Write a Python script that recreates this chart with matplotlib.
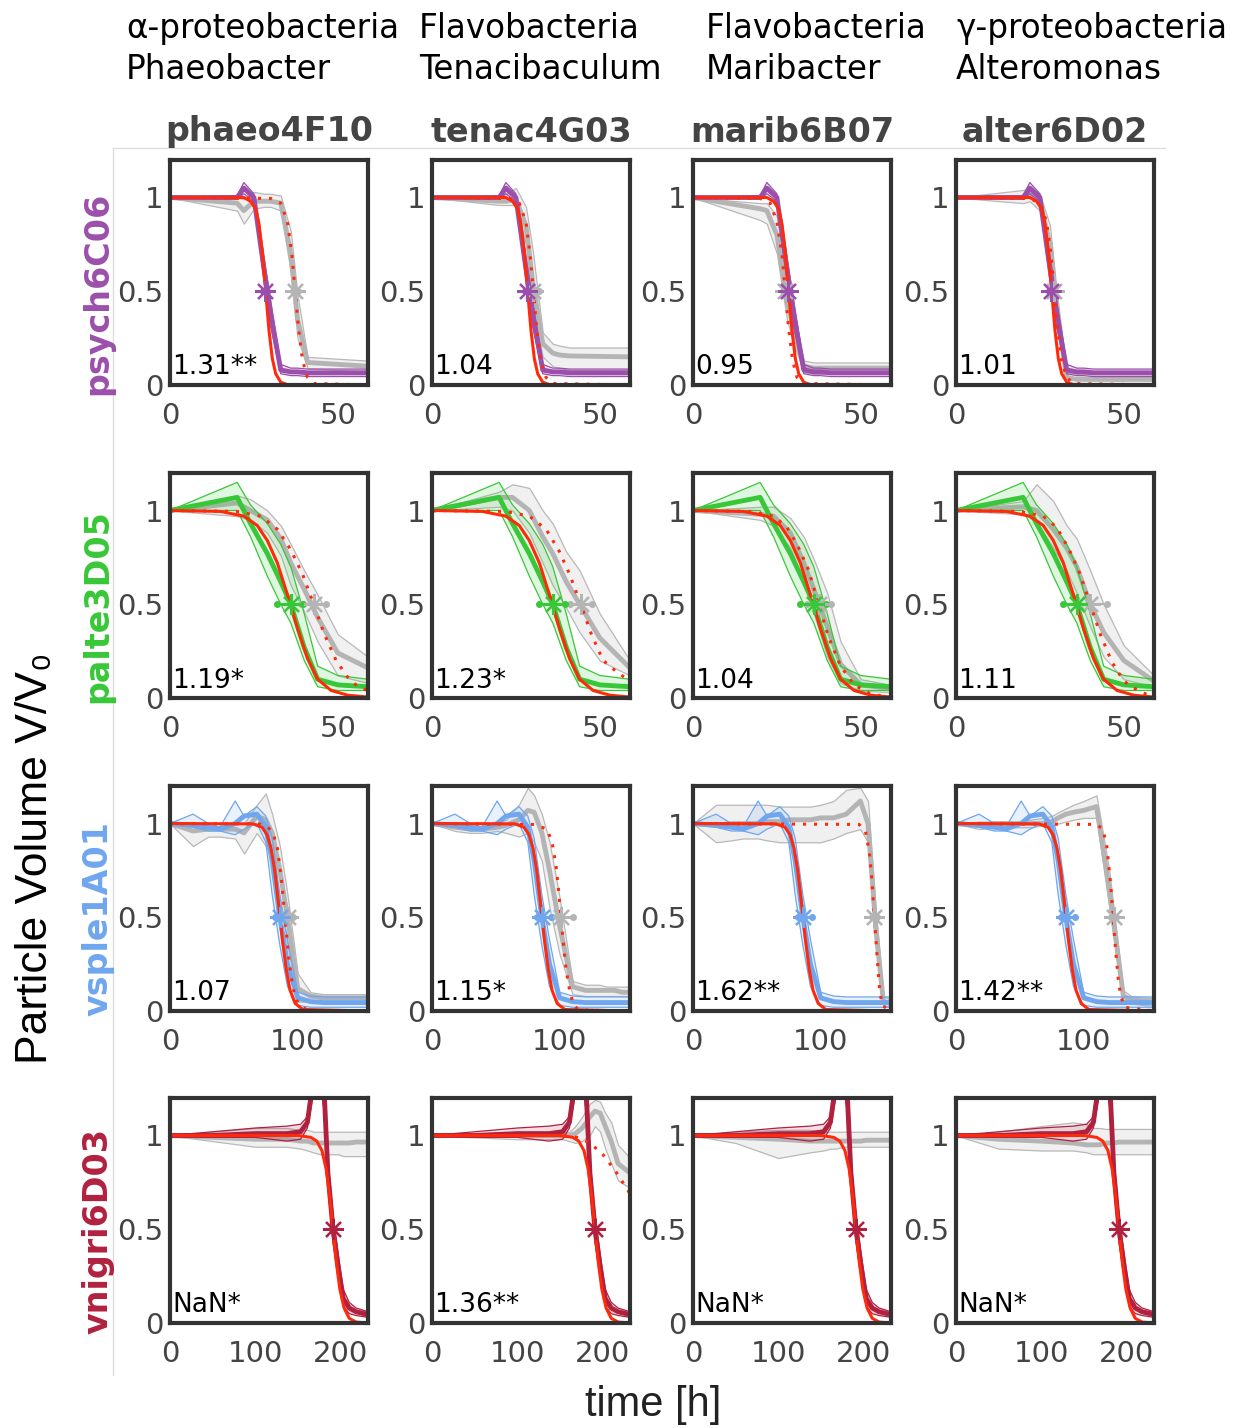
import matplotlib
matplotlib.use('Agg')
import matplotlib.pyplot as plt
from matplotlib.lines import Line2D

# ---- data ---------------------------------------------------------------
hosts = ['phaeo4F10', 'tenac4G03', 'marib6B07', 'alter6D02']
host_groups = ['α-proteobacteria\nPhaeobacter', 'Flavobacteria\nTenacibaculum',
               'Flavobacteria\nMaribacter', 'γ-proteobacteria\nAlteromonas']
strains = ['psych6C06', 'palte3D05', 'vsple1A01', 'vnigri6D03']
strain_colors = ['#9b4faa', '#38c738', '#6fa6ee', '#b0213f']
x_limits = [59, 59, 155, 232]
x_ticks = [[0, 50], [0, 50], [0, 100], [0, 100, 200]]

ratio_labels = [['1.31**', '1.04', '0.95', '1.01'],
                ['1.19*', '1.23*', '1.04', '1.11'],
                ['1.07', '1.15*', '1.62**', '1.42**'],
                ['NaN*', '1.36**', 'NaN*', 'NaN*']]

# psych6C06
t_psych = [0, 20, 22, 25, 28, 30, 33, 36, 38, 41, 59]
psych_med = [1.0, 1.0, 1.05, 1.0, 0.62, 0.38, 0.08, 0.07, 0.07, 0.065, 0.065]
psych_hi = [1.0, 1.01, 1.08, 1.02, 0.68, 0.45, 0.11, 0.09, 0.09, 0.085, 0.085]
psych_lo = [1.0, 0.99, 1.02, 0.98, 0.56, 0.31, 0.06, 0.05, 0.05, 0.045, 0.045]
psych_ctrl_med = [[1.0, 0.97, 0.93, 0.98, 0.98, 0.98, 0.97, 0.7, 0.35, 0.12, 0.1],
                  [1.0, 0.98, 0.98, 0.99, 0.85, 0.55, 0.22, 0.17, 0.16, 0.155, 0.15],
                  [1.0, 0.94, 0.93, 0.8, 0.45, 0.3, 0.1, 0.09, 0.09, 0.09, 0.09],
                  [1.0, 1.0, 1.02, 0.98, 0.75, 0.4, 0.04, 0.03, 0.03, 0.03, 0.03]]
psych_ctrl_hi = [[1.0, 1.0, 0.99, 1.03, 1.02, 1.02, 1.01, 0.82, 0.48, 0.15, 0.13],
                 [1.0, 1.0, 1.02, 1.05, 0.95, 0.72, 0.28, 0.22, 0.21, 0.2, 0.2],
                 [1.0, 0.97, 0.97, 0.9, 0.55, 0.4, 0.13, 0.12, 0.12, 0.12, 0.12],
                 [1.0, 1.04, 1.05, 1.02, 0.85, 0.5, 0.07, 0.06, 0.06, 0.06, 0.06]]
psych_ctrl_lo = [[1.0, 0.93, 0.86, 0.94, 0.95, 0.95, 0.93, 0.6, 0.25, 0.09, 0.07],
                 [1.0, 0.96, 0.96, 0.96, 0.75, 0.42, 0.15, 0.1, 0.09, 0.08, 0.08],
                 [1.0, 0.88, 0.86, 0.7, 0.35, 0.22, 0.07, 0.06, 0.06, 0.06, 0.06],
                 [1.0, 0.97, 0.98, 0.93, 0.65, 0.3, 0.01, 0.005, 0.005, 0.005, 0.005]]
psych_fit_t = [0, 22, 24, 25.5, 26.5, 27.5, 28.5, 29.5, 30.5, 31.5, 33, 35, 59]
psych_fit_v = [1.0, 1.0, 0.98, 0.94, 0.86, 0.71, 0.5, 0.29, 0.14, 0.06, 0.015, 0.002, 0.0]
psych_ctrl_fit_t = [[0, 30, 33, 35, 36.3, 37.3, 38.3, 39.5, 41, 43, 59],
                    [0, 23, 26, 28, 29.2, 30.2, 31.2, 32.4, 34, 36, 59],
                    [0, 20, 23, 25, 26.5, 27.5, 28.5, 29.7, 31, 33, 59],
                    [0, 22, 25, 27, 28.3, 29.3, 30.3, 31.5, 33, 35, 59]]
psych_ctrl_fit_v = [[1.0, 0.995, 0.97, 0.87, 0.7, 0.5, 0.3, 0.13, 0.04, 0.008, 0.0]] * 4

# palte3D05
t_palte = [0, 20, 24, 29, 33, 36, 40, 44, 50, 59]
palte_med = [1.0, 1.07, 0.93, 0.77, 0.62, 0.5, 0.27, 0.1, 0.07, 0.06]
palte_hi = [1.0, 1.15, 1.03, 0.93, 0.82, 0.7, 0.45, 0.17, 0.12, 0.1]
palte_lo = [1.0, 1.0, 0.86, 0.65, 0.5, 0.4, 0.2, 0.06, 0.04, 0.04]
palte_ctrl_med = [[1.0, 1.04, 1.0, 0.95, 0.85, 0.72, 0.58, 0.43, 0.24, 0.16],
                  [1.0, 1.07, 1.07, 1.0, 0.86, 0.77, 0.62, 0.5, 0.32, 0.16],
                  [1.0, 0.98, 0.97, 0.88, 0.72, 0.58, 0.38, 0.18, 0.07, 0.05],
                  [1.0, 1.02, 1.0, 0.9, 0.8, 0.7, 0.5, 0.35, 0.2, 0.09]]
palte_ctrl_hi = [[1.0, 1.08, 1.06, 1.0, 0.92, 0.82, 0.68, 0.55, 0.34, 0.22],
                 [1.0, 1.1, 1.14, 1.12, 1.0, 0.93, 0.78, 0.68, 0.45, 0.2],
                 [1.0, 1.02, 1.02, 0.96, 0.86, 0.74, 0.56, 0.3, 0.1, 0.07],
                 [1.0, 1.05, 1.14, 1.05, 0.92, 0.85, 0.68, 0.5, 0.28, 0.12]]
palte_ctrl_lo = [[1.0, 0.97, 0.95, 0.88, 0.76, 0.6, 0.46, 0.3, 0.12, 0.08],
                 [1.0, 1.02, 1.0, 0.88, 0.72, 0.6, 0.48, 0.35, 0.2, 0.12],
                 [1.0, 0.95, 0.92, 0.8, 0.62, 0.45, 0.22, 0.08, 0.04, 0.03],
                 [1.0, 0.98, 0.94, 0.8, 0.68, 0.56, 0.38, 0.22, 0.1, 0.06]]
palte_fit_t = [0, 15, 22, 26, 29, 32, 35, 38, 41, 44, 48, 53, 59]
palte_fit_v = [1.0, 0.995, 0.97, 0.92, 0.84, 0.72, 0.55, 0.37, 0.21, 0.1, 0.04, 0.015, 0.005]
palte_ctrl_fit_t = [[0, 20, 27, 32, 36, 39.5, 42.8, 46, 49.5, 53, 56, 59],
                    [0, 22, 29, 34, 38, 41, 44.3, 47.5, 51, 55, 59],
                    [0, 17, 24, 28, 31, 34.5, 37.4, 40.5, 44, 48, 53, 59],
                    [0, 19, 26, 30, 33.5, 37, 40, 43, 46.5, 50, 55, 59]]
palte_ctrl_fit_v = [[1.0, 0.995, 0.97, 0.9, 0.79, 0.66, 0.5, 0.34, 0.2, 0.11, 0.06, 0.04],
                    [1.0, 0.995, 0.97, 0.9, 0.78, 0.66, 0.5, 0.34, 0.2, 0.14, 0.09],
                    [1.0, 0.995, 0.97, 0.91, 0.82, 0.68, 0.5, 0.32, 0.17, 0.07, 0.02, 0.005],
                    [1.0, 0.995, 0.97, 0.91, 0.8, 0.66, 0.5, 0.34, 0.19, 0.09, 0.03, 0.01]]

# vsple1A01
t_vsple = [0, 18, 30, 39, 51, 58, 68, 75, 80, 86, 92, 100, 110, 120, 131, 137, 143, 149, 155]
vsple_med = [1.0, 0.99, 0.98, 0.97, 1.0, 1.04, 1.05, 0.98, 0.8, 0.5, 0.25, 0.07, 0.05,
             0.045, 0.045, 0.045, 0.045, 0.045, 0.045]
vsple_hi = [1.0, 1.05, 1.0, 0.98, 1.12, 1.04, 1.09, 1.04, 0.92, 0.62, 0.38, 0.1, 0.08,
            0.075, 0.075, 0.075, 0.075, 0.075, 0.075]
vsple_lo = [1.0, 0.98, 0.96, 0.96, 0.94, 0.97, 1.0, 0.9, 0.62, 0.35, 0.13, 0.03, 0.02,
            0.02, 0.02, 0.02, 0.02, 0.02, 0.02]
vsple_ctrl_med = [[1.0, 0.96, 0.97, 0.97, 0.97, 0.95, 1.04, 1.02, 0.95, 0.75, 0.5, 0.12, 0.08,
                   0.07, 0.07, 0.07, 0.07, 0.07, 0.07],
                  [1.0, 0.98, 0.97, 0.97, 0.98, 0.99, 1.02, 1.07, 1.06, 0.95, 0.75, 0.45, 0.13,
                   0.11, 0.11, 0.11, 0.11, 0.1, 0.1],
                  [1.0, 0.99, 1.0, 1.0, 1.0, 1.01, 1.01, 1.02, 1.02, 1.02, 1.02, 1.03, 1.03,
                   1.05, 1.12, 1.0, 0.45, 0.05, 0.04],
                  [1.0, 0.99, 1.0, 1.0, 1.0, 1.0, 1.0, 1.01, 1.03, 1.05, 1.06, 1.07, 1.09,
                   0.65, 0.08, 0.06, 0.055, 0.05, 0.05]]
vsple_ctrl_hi = [[1.0, 1.0, 1.0, 1.0, 1.0, 1.0, 1.1, 1.16, 1.05, 0.88, 0.62, 0.2, 0.1,
                  0.09, 0.09, 0.09, 0.09, 0.09, 0.09],
                 [1.0, 1.0, 1.0, 1.0, 1.0, 1.02, 1.1, 1.19, 1.15, 1.05, 0.9, 0.6, 0.16,
                  0.14, 0.14, 0.13, 0.13, 0.13, 0.13],
                 [1.0, 1.1, 1.1, 1.1, 1.1, 1.1, 1.09, 1.09, 1.09, 1.09, 1.09, 1.1, 1.12,
                  1.18, 1.19, 1.12, 0.55, 0.08, 0.06],
                 [1.0, 1.01, 1.01, 1.01, 1.01, 1.02, 1.03, 1.04, 1.06, 1.08, 1.1, 1.12, 1.15,
                  0.75, 0.11, 0.08, 0.075, 0.07, 0.07]]
vsple_ctrl_lo = [[1.0, 0.88, 0.93, 0.93, 0.92, 0.84, 0.95, 0.88, 0.82, 0.6, 0.35, 0.05, 0.05,
                  0.05, 0.05, 0.05, 0.05, 0.05, 0.05],
                 [1.0, 0.96, 0.95, 0.95, 0.96, 0.95, 0.93, 0.95, 0.9, 0.8, 0.55, 0.3, 0.09,
                  0.08, 0.08, 0.08, 0.08, 0.08, 0.08],
                 [1.0, 0.9, 0.91, 0.92, 0.92, 0.91, 0.9, 0.9, 0.9, 0.9, 0.9, 0.9, 0.92,
                  0.95, 0.97, 0.9, 0.35, 0.03, 0.02],
                 [1.0, 0.97, 0.98, 0.98, 0.98, 0.98, 0.99, 0.99, 1.0, 1.01, 1.02, 1.03, 1.03,
                  0.55, 0.05, 0.04, 0.035, 0.03, 0.03]]
vsple_fit_t = [0, 65, 72, 76, 79, 82, 85, 88, 91, 94, 98, 104, 155]
vsple_fit_v = [1.0, 0.998, 0.98, 0.94, 0.87, 0.75, 0.57, 0.38, 0.22, 0.11, 0.04, 0.008, 0.0]
vsple_ctrl_fit_t = [[0, 70, 77, 81, 84, 87, 90, 93, 96, 99, 103, 110, 155],
                    [0, 80, 90, 94, 97, 99, 101, 103, 105, 108, 111, 115, 155],
                    [0, 130, 135, 138, 140, 142, 144, 146, 148, 155],
                    [0, 110, 115, 118, 121, 123, 125, 127, 129, 132, 155]]
vsple_ctrl_fit_v = [[1.0, 0.998, 0.98, 0.94, 0.87, 0.72, 0.5, 0.28, 0.13, 0.06, 0.02, 0.002, 0.0],
                    [1.0, 0.995, 0.97, 0.9, 0.78, 0.65, 0.5, 0.35, 0.22, 0.1, 0.03, 0.005, 0.0],
                    [1.0, 0.995, 0.96, 0.85, 0.7, 0.5, 0.3, 0.12, 0.03, 0.0],
                    [1.0, 0.995, 0.97, 0.88, 0.68, 0.5, 0.32, 0.17, 0.08, 0.02, 0.0]]

# vnigri6D03
t_vnigri = [0, 50, 100, 137, 153, 161, 168, 176, 181, 185, 191, 197, 203, 210, 218, 232]
vnigri_med = [1.0, 1.0, 1.01, 1.01, 1.02, 1.07, 1.3, 1.35, 1.2, 0.8, 0.5, 0.3, 0.13, 0.08, 0.06, 0.045]
vnigri_hi = [1.0, 1.02, 1.04, 1.05, 1.06, 1.1, 1.4, 1.45, 1.3, 0.88, 0.58, 0.37, 0.18, 0.11, 0.08, 0.06]
vnigri_lo = [1.0, 0.99, 0.99, 0.97, 0.98, 1.04, 1.22, 1.27, 1.12, 0.73, 0.43, 0.25, 0.09, 0.05, 0.04, 0.03]
vnigri_ctrl_med = [[1.0, 0.99, 0.98, 0.98, 0.97, 0.97, 0.96, 0.96, 0.96, 0.96, 0.96, 0.96, 0.96, 0.96, 0.965, 0.965],
                   [1.0, 1.0, 1.0, 1.0, 1.0, 1.0, 1.01, 1.04, 1.07, 1.1, 1.13, 1.12, 1.05, 0.97, 0.85, 0.8],
                   [1.0, 0.99, 0.98, 0.97, 0.97, 0.97, 0.97, 0.97, 0.97, 0.97, 0.97, 0.97, 0.975, 0.975, 0.975, 0.975],
                   [1.0, 0.98, 0.97, 0.96, 0.95, 0.95, 0.95, 0.96, 0.96, 0.96, 0.965, 0.965, 0.965, 0.965, 0.965, 0.965]]
vnigri_ctrl_hi = [[1.0, 1.02, 1.04, 1.04, 1.03, 1.03, 1.02, 1.02, 1.02, 1.02, 1.02, 1.02, 1.02, 1.02, 1.02, 1.02],
                  [1.0, 1.01, 1.02, 1.02, 1.02, 1.02, 1.05, 1.1, 1.14, 1.17, 1.19, 1.18, 1.12, 1.07, 0.95, 0.88],
                  [1.0, 1.02, 1.03, 1.03, 1.02, 1.02, 1.02, 1.02, 1.02, 1.02, 1.02, 1.02, 1.02, 1.02, 1.02, 1.02],
                  [1.0, 1.02, 1.05, 1.07, 1.06, 1.04, 1.04, 1.035, 1.035, 1.035, 1.035, 1.035, 1.035, 1.035, 1.035, 1.035]]
vnigri_ctrl_lo = [[1.0, 0.97, 0.94, 0.94, 0.93, 0.92, 0.91, 0.9, 0.9, 0.9, 0.9, 0.9, 0.89, 0.89, 0.89, 0.89],
                  [1.0, 0.99, 0.98, 0.98, 0.98, 0.97, 0.96, 0.97, 0.99, 1.0, 1.05, 1.02, 0.93, 0.85, 0.76, 0.72],
                  [1.0, 0.96, 0.88, 0.91, 0.92, 0.93, 0.93, 0.94, 0.94, 0.94, 0.94, 0.94, 0.94, 0.94, 0.94, 0.94],
                  [1.0, 0.93, 0.92, 0.92, 0.91, 0.9, 0.9, 0.9, 0.9, 0.9, 0.9, 0.9, 0.9, 0.9, 0.9, 0.9]]
vnigri_fit_t = [0, 150, 165, 172, 178, 183, 187, 191, 195, 199, 204, 210, 218, 232]
vnigri_fit_v = [1.0, 1.0, 0.99, 0.97, 0.92, 0.82, 0.68, 0.5, 0.32, 0.18, 0.08, 0.025, 0.005, 0.0]
vnigri_ctrl_fit_t = [[], [0, 150, 170, 185, 200, 215, 232], [], []]
vnigri_ctrl_fit_v = [[], [1.0, 1.0, 0.99, 0.96, 0.9, 0.81, 0.69], [], []]

# half-volume times (t50) with interval ends
t50_strain = [28.3, 36.0, 86.0, 191.0]
t50_strain_lo = [27.8, 32.0, 82.0, 189.5]
t50_strain_hi = [28.8, 39.5, 93.0, 192.5]
t50_ctrl = [[37.3, 30.2, 27.5, 29.3], [42.8, 44.3, 37.4, 40.0],
            [92.0, 101.0, 142.0, 123.5], [None, None, None, None]]
t50_ctrl_lo = [[36.6, 29.0, 26.8, 29.0], [39.0, 41.0, 34.0, 36.0],
               [89.0, 94.0, 140.0, 121.5], [None, None, None, None]]
t50_ctrl_hi = [[38.0, 32.0, 28.2, 29.6], [46.6, 47.7, 41.0, 45.0],
               [96.0, 110.0, 144.0, 125.5], [None, None, None, None]]

rows = [
    (t_psych, psych_med, psych_lo, psych_hi, psych_ctrl_med, psych_ctrl_lo, psych_ctrl_hi,
     psych_fit_t, psych_fit_v, psych_ctrl_fit_t, psych_ctrl_fit_v),
    (t_palte, palte_med, palte_lo, palte_hi, palte_ctrl_med, palte_ctrl_lo, palte_ctrl_hi,
     palte_fit_t, palte_fit_v, palte_ctrl_fit_t, palte_ctrl_fit_v),
    (t_vsple, vsple_med, vsple_lo, vsple_hi, vsple_ctrl_med, vsple_ctrl_lo, vsple_ctrl_hi,
     vsple_fit_t, vsple_fit_v, vsple_ctrl_fit_t, vsple_ctrl_fit_v),
    (t_vnigri, vnigri_med, vnigri_lo, vnigri_hi, vnigri_ctrl_med, vnigri_ctrl_lo, vnigri_ctrl_hi,
     vnigri_fit_t, vnigri_fit_v, vnigri_ctrl_fit_t, vnigri_ctrl_fit_v),
]

# ---- layout (pixels) ------------------------------------------------------
W, H = 1238, 1428
col_left = [170, 432, 693, 956]
row_top = [160, 473, 786, 1098]
ax_w, ax_h = 198, 225
group_x = [126, 419, 706, 956]

FIT_RED = '#ff2a0a'
GRAY_LINE = '#b4b4b4'
GRAY_EDGE = '#b8b8b8'
GRAY_FILL = '#f0f0f0'
TEXT_DARK = '#444444'


def rect(x, y, w, h):
    return [x / W, 1 - (y + h) / H, w / W, h / H]


def draw_t50(ax, t, lo, hi, color):
    ax.plot([lo, hi], [0.5, 0.5], color=color, lw=1.5, marker='o', ms=4, zorder=6)
    ax.plot([t], [0.5], color=color, marker=(8, 2, 0), ms=15, mew=1.6, zorder=7)


def draw_panel(ax, i, j):
    (t, med, lo, hi, c_med, c_lo, c_hi, f_t, f_v, cf_t, cf_v) = rows[i]
    color = strain_colors[i]

    # control (gray) band + median
    ax.fill_between(t, c_lo[j], c_hi[j], facecolor=GRAY_FILL, edgecolor=GRAY_EDGE,
                    lw=0.9, zorder=1)
    ax.plot(t, c_med[j], color=GRAY_LINE, lw=3.5, zorder=2, solid_joinstyle='round')

    # infected strain band + median
    ax.fill_between(t, lo, hi, facecolor=color, alpha=0.15, lw=0, zorder=3)
    ax.plot(t, lo, color=color, lw=0.9, zorder=3)
    ax.plot(t, hi, color=color, lw=0.9, zorder=3)
    ax.plot(t, med, color=color, lw=3.5, zorder=4, solid_joinstyle='round')

    # fits
    if cf_t[j]:
        ax.plot(cf_t[j], cf_v[j], color=FIT_RED, lw=2.2, ls=(0, (1, 2.6)), zorder=5)
    ax.plot(f_t, f_v, color=FIT_RED, lw=2.2, zorder=5)

    if t50_ctrl[i][j] is not None:
        draw_t50(ax, t50_ctrl[i][j], t50_ctrl_lo[i][j], t50_ctrl_hi[i][j], GRAY_LINE)
    draw_t50(ax, t50_strain[i], t50_strain_lo[i], t50_strain_hi[i], color)

    ax.text(0.012, 0.02, ratio_labels[i][j], transform=ax.transAxes, fontsize=19,
            color='black', ha='left', va='bottom', zorder=8)

    ax.set_xlim(0, x_limits[i])
    ax.set_ylim(0, 1.2)
    ax.set_xticks(x_ticks[i])
    ax.set_yticks([0, 0.5, 1])
    ax.set_yticklabels(['0', '0.5', '1'])
    ax.tick_params(length=0, labelsize=21, labelcolor=TEXT_DARK)
    ax.tick_params(axis='x', pad=12)
    ax.tick_params(axis='y', pad=5)
    for sp in ax.spines.values():
        sp.set_linewidth(3)
        sp.set_color('#333333')
        sp.set_zorder(10)


fig = plt.figure(figsize=(W / 100, H / 100), dpi=100)

for i in range(4):
    for j in range(4):
        ax = fig.add_axes(rect(col_left[j], row_top[i], ax_w, ax_h))
        draw_panel(ax, i, j)

# column headers
for j in range(4):
    fig.text(group_x[j] / W, 1 - 49 / H, host_groups[j], fontsize=23.5, ha='left',
             va='center', linespacing=1.3, color='black')
    fig.text((col_left[j] + ax_w / 2) / W, 1 - 132 / H, hosts[j], fontsize=24,
             fontweight='bold', ha='center', va='center', color=TEXT_DARK)

# row headers
for i in range(4):
    fig.text(98 / W, 1 - (row_top[i] + 133) / H, strains[i], fontsize=24,
             fontweight='bold', rotation=90, ha='center', va='center',
             color=strain_colors[i])

fig.text(36 / W, 1 - 858 / H, 'Particle Volume V/V₀', fontsize=32, rotation=90,
         family='Liberation Sans', ha='center', va='center', color='black')
fig.text(653 / W, 1 - 1405 / H, 'time [h]', fontsize=30, family='Liberation Sans',
         ha='center', va='center', color='#222222')

# faint frame around the grid
fig.add_artist(Line2D([113 / W, 113 / W], [1 - 148 / H, 1 - 1375 / H], color='#dddddd', lw=1))
fig.add_artist(Line2D([113 / W, 1165 / W], [1 - 148 / H, 1 - 148 / H], color='#dddddd', lw=1))

fig.savefig('out.png', dpi=100, facecolor='white')
